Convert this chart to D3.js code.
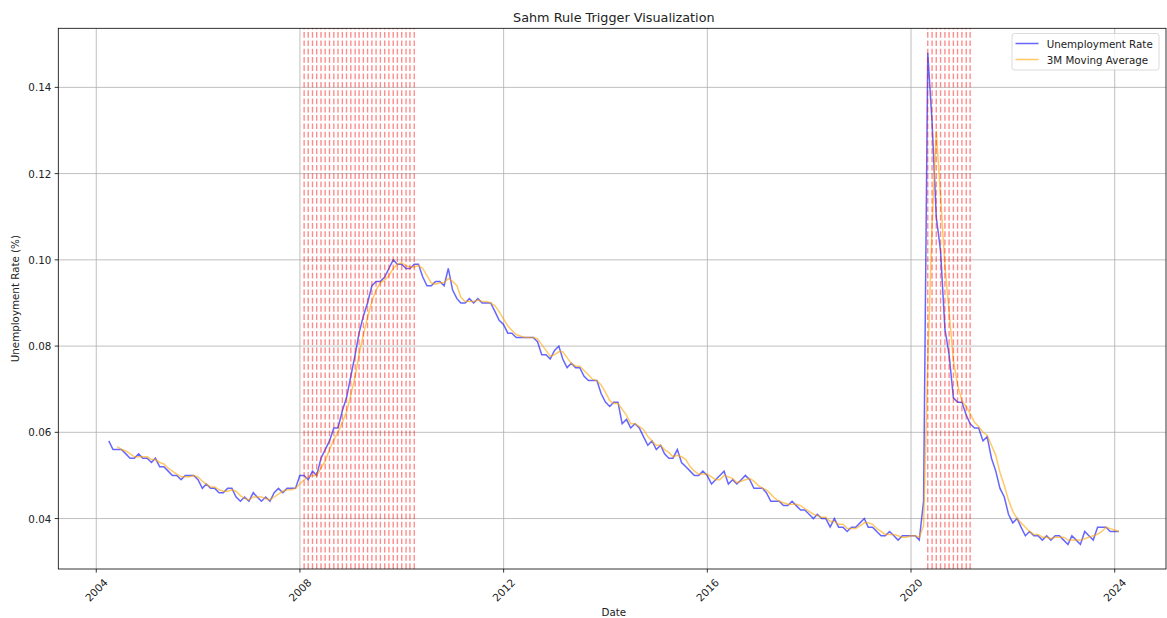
<!DOCTYPE html>
<html>
<head>
<meta charset="utf-8">
<script src="https://cdn.jsdelivr.net/npm/d3@7"></script>
<style>
  body { margin: 0; background: #fff; }
  svg { display: block; font-family: "DejaVu Sans", sans-serif; }
</style>
</head>
<body>
<svg id="svg"></svg>
<script>
// monthly unemployment rate, Mar 2004 .. Jan 2024 (month-end dates)
var firstMonth = "2004-03";
var lastMonth = "2024-01";

var rate = [
  0.058, 0.056, 0.056, 0.056, 0.055, 0.054, 0.054, 0.055, 0.054, 0.054,
  0.053, 0.054, 0.052, 0.052, 0.051, 0.050, 0.050, 0.049, 0.050, 0.050, 0.050, 0.049,
  0.047, 0.048, 0.047, 0.047, 0.046, 0.046, 0.047, 0.047, 0.045, 0.044, 0.045, 0.044,
  0.046, 0.045, 0.044, 0.045, 0.044, 0.046, 0.047, 0.046, 0.047, 0.047, 0.047, 0.050,
  0.050, 0.049, 0.051, 0.050, 0.054, 0.056, 0.058, 0.061, 0.061, 0.065, 0.068, 0.073,
  0.078, 0.083, 0.087, 0.090, 0.094, 0.095, 0.095, 0.096, 0.098, 0.100, 0.099, 0.099,
  0.098, 0.098, 0.099, 0.099, 0.096, 0.094, 0.094, 0.095, 0.095, 0.094, 0.098, 0.093,
  0.091, 0.090, 0.090, 0.091, 0.090, 0.091, 0.090, 0.090, 0.090, 0.088, 0.086, 0.085,
  0.083, 0.083, 0.082, 0.082, 0.082, 0.082, 0.082, 0.081, 0.078, 0.078, 0.077, 0.079,
  0.080, 0.077, 0.075, 0.076, 0.075, 0.075, 0.073, 0.072, 0.072, 0.072, 0.069, 0.067,
  0.066, 0.067, 0.067, 0.062, 0.063, 0.061, 0.062, 0.061, 0.059, 0.057, 0.058, 0.056,
  0.057, 0.055, 0.054, 0.054, 0.056, 0.053, 0.052, 0.051, 0.050, 0.050, 0.051, 0.050,
  0.048, 0.049, 0.050, 0.051, 0.048, 0.049, 0.048, 0.049, 0.050, 0.049, 0.047, 0.047,
  0.047, 0.046, 0.044, 0.044, 0.044, 0.043, 0.043, 0.044, 0.043, 0.042, 0.042, 0.041,
  0.040, 0.041, 0.040, 0.040, 0.038, 0.040, 0.038, 0.038, 0.037, 0.038, 0.038, 0.039,
  0.040, 0.038, 0.038, 0.037, 0.036, 0.036, 0.037, 0.036, 0.035, 0.036, 0.036, 0.036,
  0.036, 0.035, 0.044, 0.148, 0.132, 0.110, 0.102, 0.084, 0.078, 0.068, 0.067, 0.067,
  0.064, 0.062, 0.061, 0.061, 0.058, 0.059, 0.054, 0.051, 0.047, 0.045, 0.041, 0.039,
  0.040, 0.038, 0.036, 0.037, 0.036, 0.036, 0.035, 0.036, 0.035, 0.036, 0.036, 0.035,
  0.034, 0.036, 0.035, 0.034, 0.037, 0.036, 0.035, 0.038, 0.038, 0.038, 0.037, 0.037,
  0.037
];

// 3 month moving average (first two months empty)
var movingAvg = [
  null, null,
  0.05667, 0.05600, 0.05567, 0.05500, 0.05433, 0.05433, 0.05433, 0.05433,
  0.05367, 0.05367, 0.05300, 0.05267, 0.05167, 0.05100, 0.05033, 0.04967, 0.04967, 0.04967, 0.05000, 0.04967,
  0.04867, 0.04800, 0.04733, 0.04733, 0.04667, 0.04633, 0.04633, 0.04667, 0.04633, 0.04533, 0.04467, 0.04433,
  0.04500, 0.04500, 0.04500, 0.04467, 0.04433, 0.04500, 0.04567, 0.04633, 0.04667, 0.04667, 0.04700, 0.04800,
  0.04900, 0.04967, 0.05000, 0.05000, 0.05167, 0.05333, 0.05600, 0.05833, 0.06000, 0.06233, 0.06467, 0.06867,
  0.07300, 0.07800, 0.08267, 0.08667, 0.09033, 0.09300, 0.09467, 0.09533, 0.09633, 0.09800, 0.09900, 0.09933,
  0.09867, 0.09833, 0.09833, 0.09867, 0.09800, 0.09633, 0.09467, 0.09433, 0.09467, 0.09467, 0.09567, 0.09500,
  0.09400, 0.09133, 0.09033, 0.09033, 0.09033, 0.09067, 0.09033, 0.09033, 0.09000, 0.08933, 0.08800, 0.08633,
  0.08467, 0.08367, 0.08267, 0.08233, 0.08200, 0.08200, 0.08200, 0.08167, 0.08033, 0.07900, 0.07767, 0.07800,
  0.07867, 0.07867, 0.07733, 0.07600, 0.07533, 0.07533, 0.07433, 0.07333, 0.07233, 0.07200, 0.07100, 0.06933,
  0.06733, 0.06667, 0.06667, 0.06533, 0.06400, 0.06200, 0.06200, 0.06133, 0.06067, 0.05900, 0.05800, 0.05700,
  0.05700, 0.05600, 0.05533, 0.05433, 0.05467, 0.05433, 0.05367, 0.05200, 0.05100, 0.05033, 0.05033, 0.05033,
  0.04967, 0.04900, 0.04900, 0.05000, 0.04967, 0.04933, 0.04833, 0.04867, 0.04900, 0.04933, 0.04867, 0.04767,
  0.04700, 0.04667, 0.04567, 0.04467, 0.04400, 0.04367, 0.04333, 0.04333, 0.04333, 0.04300, 0.04233, 0.04167,
  0.04100, 0.04067, 0.04033, 0.04033, 0.03933, 0.03933, 0.03867, 0.03867, 0.03767, 0.03767, 0.03767, 0.03833,
  0.03900, 0.03900, 0.03867, 0.03767, 0.03700, 0.03633, 0.03633, 0.03633, 0.03600, 0.03567, 0.03567, 0.03600,
  0.03600, 0.03567, 0.03833, 0.07567, 0.10800, 0.13000, 0.11467, 0.09867, 0.08800, 0.07667, 0.07100, 0.06733,
  0.06600, 0.06433, 0.06233, 0.06133, 0.06000, 0.05933, 0.05700, 0.05467, 0.05067, 0.04767, 0.04433, 0.04167,
  0.04000, 0.03900, 0.03800, 0.03700, 0.03633, 0.03633, 0.03567, 0.03567, 0.03533, 0.03567, 0.03567, 0.03567,
  0.03500, 0.03500, 0.03500, 0.03500, 0.03533, 0.03567, 0.03600, 0.03633, 0.03700, 0.03800, 0.03767, 0.03733,
  0.03700
];

// months where the Sahm rule fired (first month, last month)
var triggerPeriods = [["2008-01", "2010-03"], ["2020-04", "2021-02"]];

var yearTicks = ["2004", "2008", "2012", "2016", "2020", "2024"];
var yTicks = [0.04, 0.06, 0.08, 0.10, 0.12, 0.14];

var width = 1167, height = 618;
var plotLeft = 58.3, plotRight = 1169.4, plotTop = 28.3, plotBottom = 569;
var frameRight = 1166;

var svg = d3.select('#svg').attr('width', width).attr('height', height);

var parseMonth = d3.utcParse('%Y-%m');
function monthsBetween(a, b) {
  return d3.utcMonth.range(parseMonth(a), d3.utcMonth.offset(parseMonth(b), 1))
    .map(function (m) { return d3.utcDay.offset(d3.utcMonth.offset(m, 1), -1); });
}

var dates = monthsBetween(firstMonth, lastMonth);
var data = dates.map(function (d, i) { return { date: d, rate: rate[i], ma: movingAvg[i] }; });

// matplotlib style 5% margins
var t0 = dates[0].getTime(), t1 = dates[dates.length - 1].getTime();
var pad = (t1 - t0) * 0.05;
var x = d3.scaleUtc().domain([new Date(t0 - pad), new Date(t1 + pad)]).range([plotLeft, plotRight]);
var ymin = d3.min(rate), ymax = d3.max(rate), ypad = (ymax - ymin) * 0.05;
var y = d3.scaleLinear().domain([ymin - ypad, ymax + ypad]).range([plotBottom, plotTop]);

var xTickDates = yearTicks.map(function (t) { return d3.utcParse('%Y')(t); });

// grid
var grid = svg.append('g').attr('stroke', '#b0b0b0').attr('stroke-width', 0.8);
grid.selectAll('line.gx').data(xTickDates).enter().append('line')
  .attr('x1', function (d) { return x(d); }).attr('x2', function (d) { return x(d); })
  .attr('y1', plotTop).attr('y2', plotBottom);
grid.selectAll('line.gy').data(yTicks).enter().append('line')
  .attr('x1', plotLeft).attr('x2', frameRight)
  .attr('y1', function (d) { return y(d); }).attr('y2', function (d) { return y(d); });

// series
var lineRate = d3.line().x(function (d) { return x(d.date); }).y(function (d) { return y(d.rate); });
var lineMa = d3.line().defined(function (d) { return d.ma != null; })
  .x(function (d) { return x(d.date); }).y(function (d) { return y(d.ma); });

svg.append('path').datum(data).attr('d', lineRate)
  .attr('fill', 'none').attr('stroke', 'blue').attr('stroke-opacity', 0.6).attr('stroke-width', 1.5);
svg.append('path').datum(data).attr('d', lineMa)
  .attr('fill', 'none').attr('stroke', 'orange').attr('stroke-opacity', 0.6).attr('stroke-width', 1.5);

// trigger lines
var triggers = [];
triggerPeriods.forEach(function (p) { triggers = triggers.concat(monthsBetween(p[0], p[1])); });
svg.append('g').selectAll('line').data(triggers).enter().append('line')
  .attr('x1', function (d) { return x(d); }).attr('x2', function (d) { return x(d); })
  .attr('y1', plotBottom).attr('y2', plotTop)
  .attr('stroke', 'red').attr('stroke-opacity', 0.45).attr('stroke-width', 1.4)
  .attr('stroke-dasharray', '5.7,2.6');

// frame
svg.append('rect').attr('x', plotLeft).attr('y', plotTop)
  .attr('width', frameRight - plotLeft).attr('height', plotBottom - plotTop)
  .attr('fill', 'none').attr('stroke', '#000').attr('stroke-width', 0.8);

// x ticks
var xt = svg.append('g');
xt.selectAll('line').data(xTickDates).enter().append('line')
  .attr('x1', function (d) { return x(d); }).attr('x2', function (d) { return x(d); })
  .attr('y1', plotBottom).attr('y2', plotBottom + 3.6).attr('stroke', '#000').attr('stroke-width', 0.8);
xt.selectAll('text').data(yearTicks).enter().append('text')
  .attr('transform', function (d, i) { return 'translate(' + x(xTickDates[i]) + ',590) rotate(-45)'; })
  .attr('text-anchor', 'middle').attr('dominant-baseline', 'central')
  .attr('font-size', 10.5).attr('fill', '#222').text(function (d) { return d; });

// y ticks
var yt = svg.append('g');
yt.selectAll('line').data(yTicks).enter().append('line')
  .attr('x1', plotLeft - 3.6).attr('x2', plotLeft)
  .attr('y1', function (d) { return y(d); }).attr('y2', function (d) { return y(d); })
  .attr('stroke', '#000').attr('stroke-width', 0.8);
yt.selectAll('text').data(yTicks).enter().append('text')
  .attr('x', plotLeft - 7).attr('y', function (d) { return y(d); })
  .attr('text-anchor', 'end').attr('dominant-baseline', 'central')
  .attr('font-size', 10.3).attr('fill', '#222').text(function (d) { return d3.format('.2f')(d); });

// labels
var cx = (plotLeft + plotRight) / 2;
svg.append('text').attr('x', cx).attr('y', 17).attr('text-anchor', 'middle')
  .attr('dominant-baseline', 'central').attr('font-size', 12.8).attr('fill', '#222')
  .text('Sahm Rule Trigger Visualization');
svg.append('text').attr('x', cx).attr('y', 612).attr('text-anchor', 'middle')
  .attr('dominant-baseline', 'central').attr('font-size', 10.3).attr('fill', '#222').text('Date');
svg.append('text').attr('transform', 'translate(15,' + (plotTop + plotBottom) / 2 + ') rotate(-90)')
  .attr('text-anchor', 'middle').attr('dominant-baseline', 'central')
  .attr('font-size', 10.3).attr('fill', '#222').text('Unemployment Rate (%)');

// legend
var legendItems = [
  { label: 'Unemployment Rate', color: 'blue' },
  { label: '3M Moving Average', color: 'orange' }
];
var lg = svg.append('g').attr('transform', 'translate(1012,33.5)');
lg.append('rect').attr('width', 147).attr('height', 36.5).attr('rx', 2.5)
  .attr('fill', '#fff').attr('fill-opacity', 0.8).attr('stroke', '#d0d0d0').attr('stroke-width', 0.8);
var li = lg.selectAll('g').data(legendItems).enter().append('g')
  .attr('transform', function (d, i) { return 'translate(0,' + (10 + i * 16) + ')'; });
li.append('line').attr('x1', 3.5).attr('x2', 26.5)
  .attr('stroke', function (d) { return d.color; }).attr('stroke-opacity', 0.6).attr('stroke-width', 1.5);
li.append('text').attr('x', 34.7).attr('dominant-baseline', 'central')
  .attr('font-size', 10.3).attr('fill', '#222').text(function (d) { return d.label; });
</script>
</body>
</html>
